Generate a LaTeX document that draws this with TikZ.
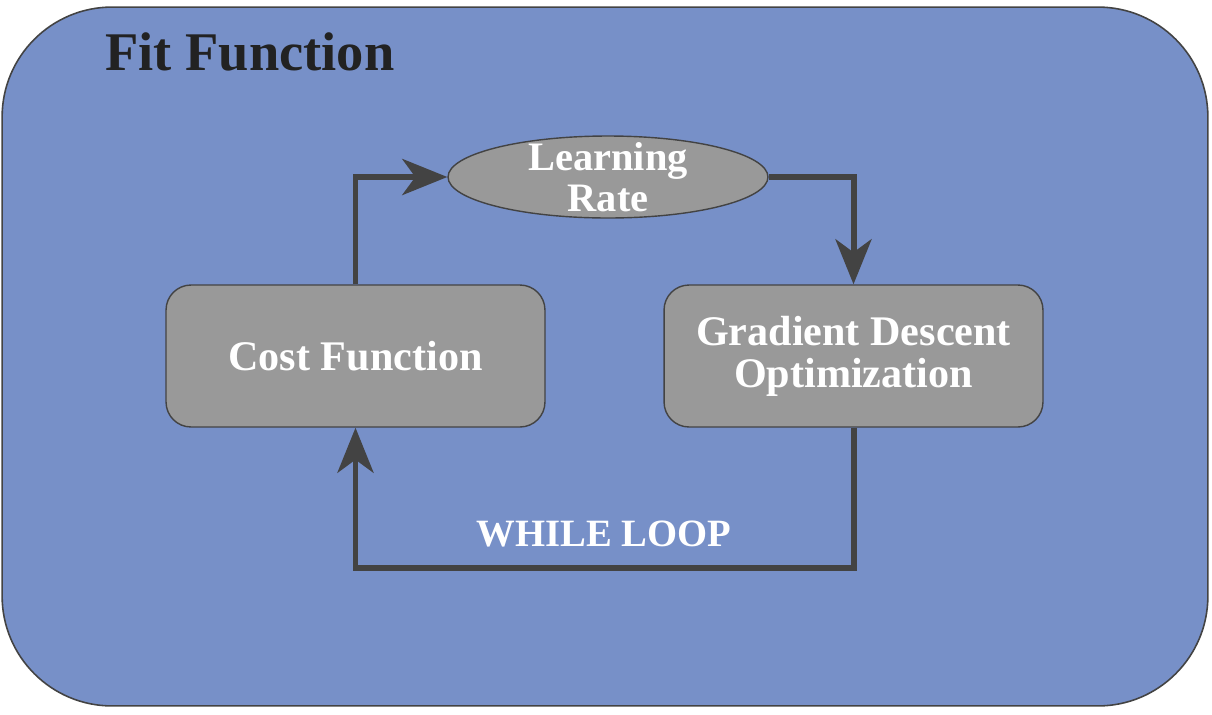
\documentclass[tikz,border=0pt]{standalone}
\usepackage{fontspec}
\setmainfont{Liberation Serif}
\usetikzlibrary{arrows.meta, shapes.geometric}
\definecolor{fitblue}{HTML}{7790C8}
\definecolor{boxgray}{HTML}{999999}
\definecolor{linegray}{HTML}{434343}
\definecolor{titleblack}{HTML}{222222}

\begin{document}
\begin{tikzpicture}[x=0.02cm, y=-0.02cm,
    fitbox/.style={draw=linegray, fill=fitblue, line width=0.9pt, rounded corners=2.2cm, minimum width=24.12cm, minimum height=13.98cm},
    stepbox/.style={draw=linegray, fill=boxgray, line width=0.8pt, rounded corners=0.5cm, minimum width=7.58cm, minimum height=2.84cm, text=white, align=center, font=\bfseries\fontsize{24}{24}\selectfont},
    rateblob/.style={ellipse, draw=linegray, fill=boxgray, line width=0.8pt, minimum width=6.4cm, minimum height=1.64cm, inner sep=0pt},
    ratetext/.style={text=white, align=center, inner sep=0pt, font=\bfseries\fontsize{23}{23}\selectfont},
    flowline/.style={draw=linegray, line width=3.4pt, -{Stealth[length=9mm, width=7.2mm, inset=2.6mm]}}]
    \useasboundingbox (0, 0) rectangle (1212, 714);

    \node[fitbox] (fit) at (605, 356.5) {};
    \node[anchor=base west, inner sep=0pt, text=titleblack, font=\bfseries\fontsize{31}{31}\selectfont] (title) at (105, 70) {Fit Function};

    \node[stepbox] (cost) at (355.5, 356) {Cost Function};
    \node[stepbox] (grad) at (853.5, 356) {Gradient Descent\\Optimization};
    \node[rateblob] (rate) at (608, 177) {};
    \node[ratetext] (ratelabel) at (rate) {Learning\\Rate};
    \coordinate (loopbottom) at (604, 568);
    \node[text=white, font=\bfseries\fontsize{22}{22}\selectfont] (loop) at (604, 534) {WHILE LOOP};

    \draw[flowline] (cost.north) |- (rate.west);
    \draw[flowline] (rate.east) -| (grad.north);
    \draw[flowline] (grad.south) |- (loopbottom) -| (cost.south);
\end{tikzpicture}
\end{document}
